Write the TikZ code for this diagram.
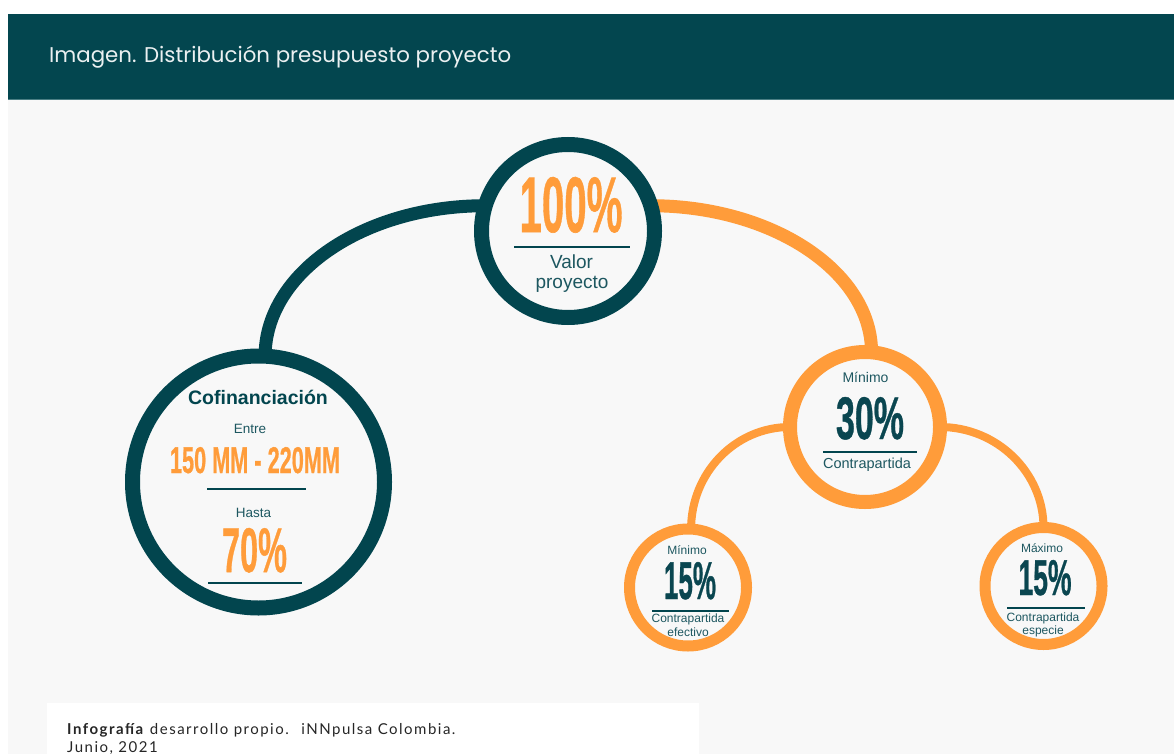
\documentclass[tikz,border=0pt]{standalone}
\usepackage{fontspec}
\usepackage{graphicx}
\setmainfont{Liberation Sans}
\newfontfamily\headfont{Poppins}
\newfontfamily\footfont[LetterSpace=10]{Lato}
\newfontfamily\numfont[FakeBold=0.8]{Liberation Sans Bold}
\definecolor{headbg}{HTML}{03464F}
\definecolor{dark}{HTML}{02454E}
\definecolor{orng}{HTML}{FF9C3A}
\definecolor{txtteal}{HTML}{1D5760}
\definecolor{numteal}{HTML}{0A4650}
\definecolor{bodybg}{HTML}{F8F8F8}
\definecolor{headline}{HTML}{4A7E84}
\newcommand{\bignum}[3]{\resizebox{#1pt}{#2pt}{\numfont #3}}
\pgfdeclarelayer{back}
\pgfdeclarelayer{conn}
\pgfsetlayers{back,conn,main}
\tikzset{
  ring/.style={circle, fill=bodybg, inner sep=0pt, outer sep=0pt},
  lbl/.style={inner sep=0pt, outer sep=0pt, anchor=base, text=txtteal},
  uline/.style={line width=2.5pt, draw=dark},
  darkconn/.style={draw=dark, line width=13pt},
  orconn/.style={draw=orng, line width=13pt},
  smconn/.style={draw=orng, line width=8pt}
}
\begin{document}
\begin{tikzpicture}[x=1pt, y=-1pt]
\useasboundingbox (0,0) rectangle (1174,754);
\begin{pgfonlayer}{back}
  \fill[white] (0,0) rectangle (1174,754);
  \fill[headbg] (8,14) rectangle (1174,99);
  \fill[bodybg] (8,99) rectangle (1174,754);
  \draw[headline, line width=1pt] (8,99.5) -- (1174,99.5);
  \fill[white] (47,703) rectangle (699,754);
\end{pgfonlayer}

% header
\node[inner sep=0pt, anchor=base west, text=white!92!headbg] (title) at (49,63)
  {\resizebox{462pt}{!}{\headfont\fontsize{20}{24}\selectfont Imagen. Distribución presupuesto proyecto}};

% circles
\node[ring, draw=dark, line width=15pt, minimum size=173pt] (top) at (568,231) {};
\node[ring, draw=dark, line width=15pt, minimum size=252pt] (left) at (258.5,482) {};
\node[ring, draw=orng, line width=14pt, minimum size=150pt] (mid) at (865,427) {};
\node[ring, draw=orng, line width=11pt, minimum size=117pt] (sl) at (688,587.5) {};
\node[ring, draw=orng, line width=11pt, minimum size=117pt] (sr) at (1043.5,586) {};

% connectors
\begin{pgfonlayer}{conn}
  \draw[darkconn] (top.163) .. controls +(-122,0) and +(0,-83) .. (left.87.5);
  \draw[orconn] (top.17) .. controls +(121,0) and +(0,-81) .. (mid.85);
  \draw[smconn] (mid.180) .. controls +(-55,0) and +(0,-56) .. (sl.87);
  \draw[smconn] (mid.0) .. controls +(57,0) and +(0,-55) .. (sr.90);
\end{pgfonlayer}

% top circle text
\node[lbl, text=orng] (n100) at (571,232) {\bignum{103}{55}{100\%}};
\draw[uline] (514,247) -- (630,247);
\node[lbl, font=\fontsize{19}{20}\selectfont] (valor) at (571.5,268) {Valor};
\node[lbl, font=\fontsize{19}{20}\selectfont] (proy) at (572,288) {proyecto};

% left circle text
\node[lbl, font=\bfseries\fontsize{19.5}{22}\selectfont, text=dark] (cof) at (258,404) {Cofinanciación};
\node[lbl, font=\fontsize{13.5}{15}\selectfont] (entre) at (250,433) {Entre};
\node[lbl, text=orng] (range) at (255,473) {\bignum{170}{26}{150 MM - 220MM}};
\draw[uline] (207,489) -- (306,489);
\node[lbl, font=\fontsize{13.5}{15}\selectfont] (hasta) at (253.5,517) {Hasta};
\node[lbl, text=orng] (n70) at (254.5,572) {\bignum{65}{44}{70\%}};
\draw[uline] (208,583) -- (302,583);

% middle circle text
\node[lbl, font=\fontsize{14}{16}\selectfont] (min1) at (865.5,382) {Mínimo};
\node[lbl, text=numteal] (n30) at (870,439) {\bignum{68}{42}{30\%}};
\draw[uline] (823,452) -- (917,452);
\node[lbl, font=\fontsize{14.5}{16}\selectfont] (cp1) at (867,468) {Contrapartida};

% small left text
\node[lbl, font=\fontsize{12}{14}\selectfont] (min2) at (687,554) {Mínimo};
\node[lbl, text=numteal] (n15a) at (690,599) {\bignum{52}{37}{15\%}};
\draw[uline] (652,611) -- (729,611);
\node[lbl, font=\fontsize{12}{14}\selectfont] (cp2) at (688,622) {Contrapartida};
\node[lbl, font=\fontsize{12}{14}\selectfont] (efec) at (688,636) {efectivo};

% small right text
\node[lbl, font=\fontsize{12}{14}\selectfont] (max) at (1042,552) {Máximo};
\node[lbl, text=numteal] (n15b) at (1045,595) {\bignum{53}{35}{15\%}};
\draw[uline] (1007,608) -- (1085,608);
\node[lbl, font=\fontsize{12}{14}\selectfont] (cp3) at (1043,621) {Contrapartida};
\node[lbl, font=\fontsize{12}{14}\selectfont] (esp) at (1043,634) {especie};

% footer
\node[inner sep=0pt, anchor=base west, text=black!85] (foot1) at (67,734)
  {\footfont\fontsize{15}{18}\selectfont\textbf{Infografía} desarrollo propio.~ iNNpulsa Colombia.};
\node[inner sep=0pt, anchor=base west, text=black!85] (foot2) at (67,752)
  {\footfont\fontsize{15}{18}\selectfont Junio, 2021};
\end{tikzpicture}
\end{document}
